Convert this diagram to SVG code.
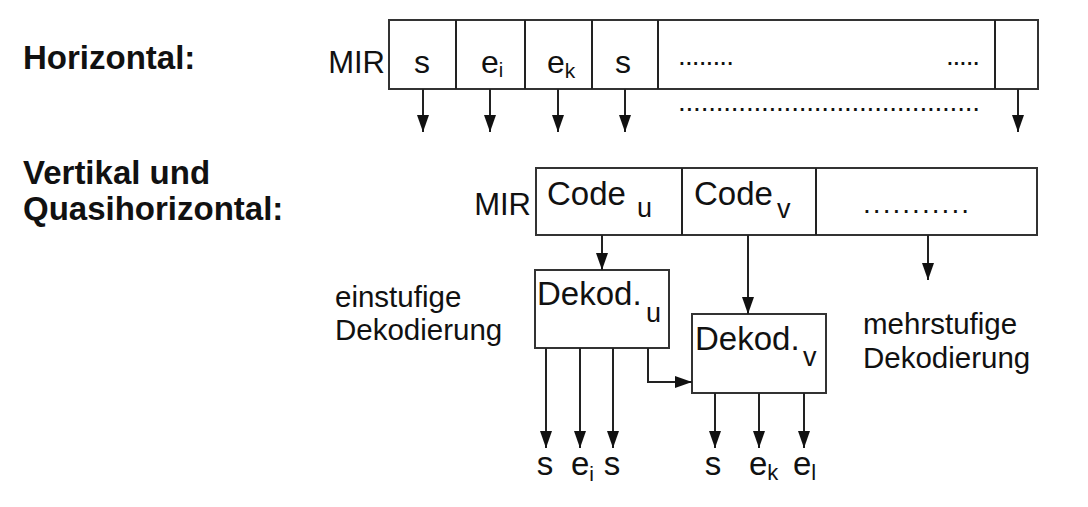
<svg xmlns="http://www.w3.org/2000/svg" width="1088" height="507" viewBox="0 0 1088 507">
<style>
.t{font-family:"Liberation Sans",Arial,sans-serif;fill:#111}
.b{font-weight:bold;font-size:33px}
.box{fill:#fff;stroke:#333;stroke-width:2}
.ln{fill:none;stroke:#222;stroke-width:2}
</style>
<defs>
<marker id="ah" viewBox="0 0 17 12" refX="17" refY="6" markerWidth="17" markerHeight="12" orient="auto" markerUnits="userSpaceOnUse">
<path d="M0,0 L17,6 L0,12 z" fill="#111"/>
</marker>
</defs>
<rect width="1088" height="507" fill="#fff"/>
<g id="titles">
<text class="t b" x="23" y="69">Horizontal:</text>
<text class="t b" x="23" y="184">Vertikal und</text>
<text class="t b" x="23" y="220">Quasihorizontal:</text>
</g>
<g id="mir-horizontal">
<text class="t" x="385" y="73" font-size="31" text-anchor="end">MIR</text>
<rect class="box" x="389" y="20" width="649" height="69"/>
<path class="ln" d="M456,20V89M525,20V89M592,20V89M658,20V89M995,20V89"/>
<text class="t" x="422" y="73" font-size="32" text-anchor="middle">s</text>
<text class="t" x="481" y="73" font-size="32">e<tspan font-size="20" dy="4">i</tspan></text>
<text class="t" x="547" y="73" font-size="32">e<tspan font-size="21" dy="5">k</tspan></text>
<text class="t" x="623" y="73" font-size="32" text-anchor="middle">s</text>
<text class="t" x="678" y="65" font-size="28" textLength="56" lengthAdjust="spacing">........</text>
<text class="t" x="946" y="65" font-size="28" textLength="34" lengthAdjust="spacing">.....</text>
</g>
<g id="dots-row">
<text class="t" x="678" y="111" font-size="28" textLength="302" lengthAdjust="spacing">........................................</text>
</g>
<g id="mir-vertical">
<text class="t" x="531" y="215" font-size="31" text-anchor="end">MIR</text>
<rect class="box" x="536" y="168" width="501" height="67"/>
<path class="ln" d="M682,168V235M816,168V235"/>
<text class="t" x="547" y="205" font-size="33">Code</text>
<text class="t" x="637" y="217" font-size="27">u</text>
<text class="t" x="694" y="205" font-size="33">Code</text>
<text class="t" x="777" y="218" font-size="27">v</text>
<text class="t" x="863" y="213" font-size="28" textLength="106" lengthAdjust="spacing">...........</text>
</g>
<g id="dekod-u">
<rect class="box" x="535" y="270" width="134" height="78"/>
<text class="t" x="537" y="305" font-size="33">Dekod.</text>
<text class="t" x="646" y="322" font-size="27">u</text>
</g>
<g id="dekod-v">
<rect class="box" x="692" y="314" width="134" height="79"/>
<text class="t" x="695" y="350" font-size="33">Dekod.</text>
<text class="t" x="803" y="366" font-size="27">v</text>
</g>
<g id="labels">
<text class="t" x="335" y="307" font-size="29.5">einstufige</text>
<text class="t" x="335" y="340" font-size="29.5">Dekodierung</text>
<text class="t" x="863" y="334" font-size="29.5">mehrstufige</text>
<text class="t" x="863" y="368" font-size="29.5">Dekodierung</text>
<text class="t" x="545" y="475" font-size="33" text-anchor="middle">s</text>
<text class="t" x="571" y="475" font-size="33">e<tspan font-size="21" dy="6">i</tspan></text>
<text class="t" x="612" y="475" font-size="33" text-anchor="middle">s</text>
<text class="t" x="713" y="475" font-size="33" text-anchor="middle">s</text>
<text class="t" x="749" y="475" font-size="33">e<tspan font-size="22" dy="5">k</tspan></text>
<text class="t" x="793" y="475" font-size="33">e<tspan font-size="22" dy="5">l</tspan></text>
</g>
<g id="connectors">
<path class="ln" marker-end="url(#ah)" d="M423,89V132"/>
<path class="ln" marker-end="url(#ah)" d="M490,89V132"/>
<path class="ln" marker-end="url(#ah)" d="M558,89V132"/>
<path class="ln" marker-end="url(#ah)" d="M625,89V132"/>
<path class="ln" marker-end="url(#ah)" d="M1018,89V132"/>
<path class="ln" marker-end="url(#ah)" d="M602,235V270"/>
<path class="ln" marker-end="url(#ah)" d="M748,235V314"/>
<path class="ln" marker-end="url(#ah)" d="M928,235V280"/>
<path class="ln" marker-end="url(#ah)" d="M648,348V382H692"/>
<path class="ln" marker-end="url(#ah)" d="M546,348V448"/>
<path class="ln" marker-end="url(#ah)" d="M580,348V448"/>
<path class="ln" marker-end="url(#ah)" d="M613,348V448"/>
<path class="ln" marker-end="url(#ah)" d="M715,393V448"/>
<path class="ln" marker-end="url(#ah)" d="M759,393V448"/>
<path class="ln" marker-end="url(#ah)" d="M804,393V448"/>
</g>
</svg>
